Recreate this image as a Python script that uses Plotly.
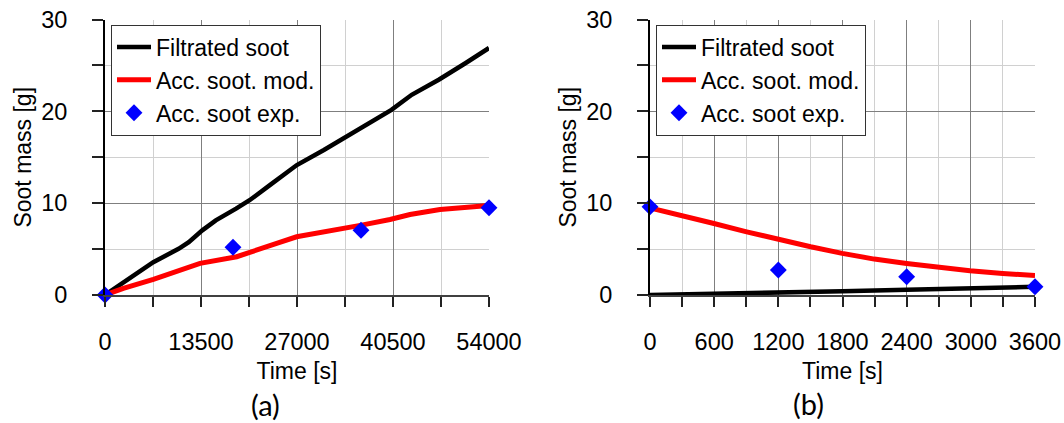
import plotly.graph_objects as go

# ---- (a) loading phase ----
t_filt_a = [0, 3230, 6790, 10350, 11780, 13680, 15580, 18430, 20330, 23180,
            26980, 30780, 36000, 37430, 40280, 43130, 46930, 50730, 54000]
filt_a = [0, 1.75, 3.57, 5.03, 5.76, 7.04, 8.13, 9.41, 10.32, 11.96,
          14.15, 15.79, 18.16, 18.88, 20.16, 21.8, 23.44, 25.26, 26.9]

t_mod_a = [0, 2580, 6800, 10080, 13360, 18520, 22270, 24140, 26950, 30700,
           36090, 40080, 42890, 47110, 54000]
mod_a = [0, 0.72, 1.70, 2.54, 3.44, 4.17, 5.07, 5.62, 6.34, 6.81,
         7.61, 8.22, 8.77, 9.31, 9.75]

t_exp_a = [0, 18000, 36000, 54000]
exp_a = [0, 5.2, 7.05, 9.5]

# ---- (b) regeneration phase ----
t_filt_b = [0, 600, 1200, 1800, 2400, 3000, 3600]
filt_b = [0, 0.1, 0.24, 0.4, 0.56, 0.73, 0.9]

t_mod_b = [0, 302, 598, 904, 1200, 1502, 1798, 2097, 2400, 2696, 2992, 3298, 3600]
mod_b = [9.49, 8.70, 7.79, 6.88, 6.05, 5.25, 4.53, 3.91, 3.44, 3.01, 2.64, 2.35, 2.12]

t_exp_b = [0, 1200, 2400, 3600]
exp_b = [9.6, 2.72, 1.99, 0.9]

names = ["Filtrated soot", "Acc. soot. mod.", "Acc. soot exp."]
x_ticks_a = [0, 13500, 27000, 40500, 54000]
x_ticks_b = [0, 600, 1200, 1800, 2400, 3000, 3600]

W, H = 1064, 423
FONT = "Liberation Sans, Arial, sans-serif"

fig = go.Figure()


def add_panel(xa, ya, leg, tf, f, tm, m, te, e):
    fig.add_trace(go.Scatter(x=tf, y=f, mode="lines", name=names[0],
                             line=dict(color="black", width=4.5),
                             xaxis=xa, yaxis=ya, legend=leg, cliponaxis=False))
    fig.add_trace(go.Scatter(x=tm, y=m, mode="lines", name=names[1],
                             line=dict(color="#ff0000", width=5),
                             xaxis=xa, yaxis=ya, legend=leg, cliponaxis=False))
    fig.add_trace(go.Scatter(x=te, y=e, mode="markers", name=names[2],
                             marker=dict(symbol="diamond", color="#0000ff", size=13),
                             xaxis=xa, yaxis=ya, legend=leg, cliponaxis=False))


add_panel("x", "y", "legend", t_filt_a, filt_a, t_mod_a, mod_a, t_exp_a, exp_a)
add_panel("x2", "y2", "legend2", t_filt_b, filt_b, t_mod_b, mod_b, t_exp_b, exp_b)

y_dom = [(H - 295) / H, (H - 19.5) / H]
dom_a = [105 / W, 489 / W]
dom_b = [650 / W, 1035 / W]

tickfont = dict(family=FONT, size=23.5, color="black")
titlefont = dict(family=FONT, size=23, color="black")


def xaxis(dom, rng, dtick, vals, anchor):
    return dict(domain=dom, range=rng, anchor=anchor, automargin=False,
                tickmode="array", tickvals=vals, ticktext=[str(v) for v in vals],
                showgrid=True, gridcolor="#7f7f7f", gridwidth=1.3,
                zeroline=False, showline=True, linecolor="#404040", linewidth=2,
                ticks="outside", ticklen=10, tickwidth=1.5, tickcolor="#222",
                ticklabelstandoff=15, tickfont=tickfont,
                minor=dict(dtick=dtick / 2, tick0=0, showgrid=True,
                           gridcolor="#d0d0d0", gridwidth=1.3,
                           ticks="outside", ticklen=10, tickwidth=1.5, tickcolor="#222"),
                title=dict(text="Time [s]", font=titlefont, standoff=9))


def yaxis(anchor):
    return dict(domain=y_dom, range=[0, 30], anchor=anchor, automargin=False,
                dtick=10, tick0=0,
                showgrid=True, gridcolor="#7f7f7f", gridwidth=1.3,
                zeroline=False, showline=True, linecolor="black", linewidth=2,
                ticks="outside", ticklen=11, tickwidth=1.5, tickcolor="#222",
                ticklabelstandoff=20, tickfont=tickfont,
                minor=dict(dtick=5, tick0=0, showgrid=True, gridcolor="#d0d0d0",
                           gridwidth=1.3, ticks="outside", ticklen=11,
                           tickwidth=1.5, tickcolor="#222"),
                title=dict(text="Soot mass [g]", font=titlefont, standoff=3))


legend_style = dict(font=dict(family=FONT, size=23, color="black"),
                    bgcolor="white", bordercolor="#333", borderwidth=1,
                    xanchor="left", yanchor="top", y=1 - 24.5 / H,
                    itemwidth=34, tracegroupgap=0)

label_font = dict(family="Lato, Carlito, sans-serif", size=29, color="black")

fig.update_layout(
    template="none",
    width=W, height=H,
    margin=dict(l=0, r=0, t=0, b=0, pad=0),
    paper_bgcolor="white", plot_bgcolor="white",
    xaxis=xaxis(dom_a, [0, 54000], 13500, x_ticks_a, "y"),
    yaxis=yaxis("x"),
    xaxis2=xaxis(dom_b, [0, 3600], 600, x_ticks_b, "y2"),
    yaxis2=yaxis("x2"),
    legend=dict(x=111 / W, **legend_style),
    legend2=dict(x=656 / W, **legend_style),
    annotations=[
        dict(text="(a)", x=265 / W, y=1 - 404 / H, xref="paper", yref="paper",
             xanchor="center", yanchor="middle", showarrow=False, font=label_font),
        dict(text="(b)", x=808 / W, y=1 - 403 / H, xref="paper", yref="paper",
             xanchor="center", yanchor="middle", showarrow=False, font=label_font),
    ],
)

fig.write_html("out.html")
